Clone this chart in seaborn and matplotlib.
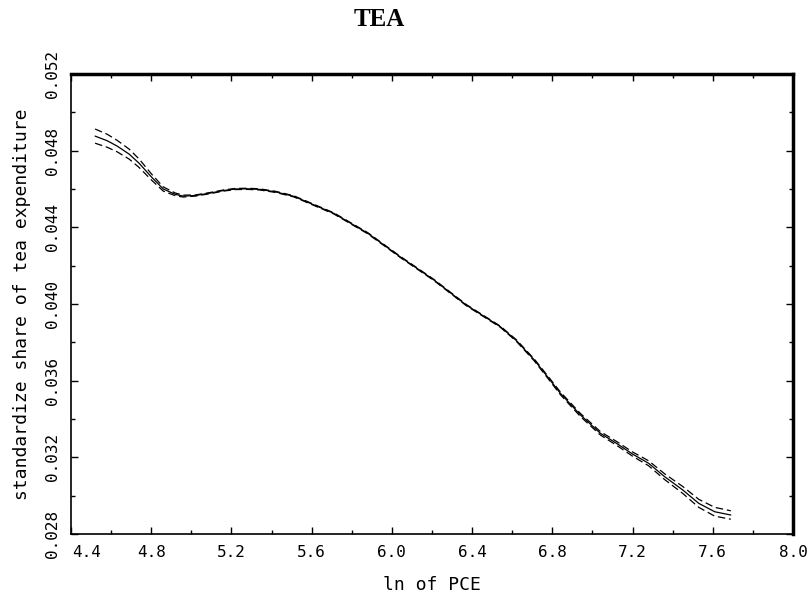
import pandas as pd
import matplotlib.pyplot as plt
import seaborn as sns
from matplotlib.ticker import MultipleLocator, FormatStrFormatter, FuncFormatter

# valores
ln_pce = [4.52, 4.58, 4.63, 4.69, 4.74, 4.80, 4.86, 4.92, 4.96, 5.02,
          5.09, 5.16, 5.22, 5.28, 5.34, 5.42, 5.51, 5.56, 5.71, 5.88,
          6.04, 6.21, 6.37, 6.54, 6.62, 6.71, 6.78, 6.84, 6.94, 7.04,
          7.12, 7.20, 7.28, 7.36, 7.45, 7.53, 7.61, 7.69]
share = [0.04876, 0.04852, 0.04824, 0.04782, 0.04734, 0.04664, 0.04600, 0.04572, 0.04563, 0.04566,
         0.04578, 0.04592, 0.04600, 0.04601, 0.04598, 0.04585, 0.04562, 0.04540, 0.04473, 0.04369,
         0.04247, 0.04125, 0.03995, 0.03882, 0.03810, 0.03708, 0.03615, 0.03534, 0.03421, 0.03325,
         0.03273, 0.03217, 0.03169, 0.03099, 0.03030, 0.02960, 0.02916, 0.02899]
upper = [0.04913, 0.04886, 0.04854, 0.04808, 0.04756, 0.04680, 0.04611, 0.04579, 0.04568, 0.04569,
         0.04581, 0.04595, 0.04603, 0.04604, 0.04601, 0.04588, 0.04565, 0.04543, 0.04476, 0.04372,
         0.04250, 0.04128, 0.03998, 0.03885, 0.03814, 0.03713, 0.03621, 0.03541, 0.03429, 0.03334,
         0.03283, 0.03228, 0.03182, 0.03114, 0.03048, 0.02981, 0.02939, 0.02921]
lower = [0.04839, 0.04818, 0.04794, 0.04756, 0.04712, 0.04648, 0.04589, 0.04565, 0.04558, 0.04563,
         0.04575, 0.04589, 0.04597, 0.04598, 0.04595, 0.04582, 0.04559, 0.04537, 0.04470, 0.04366,
         0.04244, 0.04122, 0.03992, 0.03879, 0.03806, 0.03703, 0.03609, 0.03527, 0.03413, 0.03316,
         0.03263, 0.03206, 0.03156, 0.03084, 0.03012, 0.02939, 0.02893, 0.02877]

data = pd.concat([
    pd.DataFrame({'x': ln_pce, 'y': share, 'curve': 'estimate'}),
    pd.DataFrame({'x': ln_pce, 'y': upper, 'curve': 'upper'}),
    pd.DataFrame({'x': ln_pce, 'y': lower, 'curve': 'lower'}),
])

sns.set_style('ticks')
plt.rcParams['font.family'] = ['DejaVu Sans Mono', 'DejaVu Sans']
plt.rcParams['text.color'] = 'black'
plt.rcParams['axes.labelcolor'] = 'black'
plt.rcParams['xtick.color'] = 'black'
plt.rcParams['ytick.color'] = 'black'

fig = plt.figure(figsize=(8.09, 6.01), dpi=100)
ax = fig.add_axes([71 / 809, 1 - 534 / 601, 722 / 809, 460 / 601])

sns.lineplot(data=data, x='x', y='y', style='curve', units='curve', estimator=None,
             dashes={'estimate': '', 'upper': (6, 3), 'lower': (6, 3)},
             color='black', linewidth=0.9, sort=False, legend=False, ax=ax)

ax.set_xlim(4.4, 8.0)
ax.set_ylim(0.028, 0.052)
ax.xaxis.set_major_locator(MultipleLocator(0.4))
ax.xaxis.set_minor_locator(MultipleLocator(0.2))
ax.yaxis.set_major_locator(MultipleLocator(0.004))
ax.yaxis.set_minor_locator(MultipleLocator(0.002))
# o 4.4 fica deslocado para a direita no original, desenhado a parte
ax.xaxis.set_major_formatter(FuncFormatter(lambda v, p: '' if abs(v - 4.4) < 1e-6 else f'{v:.1f}'))
ax.yaxis.set_major_formatter(FormatStrFormatter('%.3f'))
ax.tick_params(which='both', direction='in', top=True, right=True, color='black')
ax.tick_params(which='major', length=5, width=1, labelsize=11.5, pad=8)
ax.tick_params(which='minor', length=3, width=1)
plt.setp(ax.get_yticklabels(), rotation=90, va='center')
ax.annotate('4.4', xy=(4.4, 0), xycoords=ax.get_xaxis_transform(),
            xytext=(1, -8), textcoords='offset points', ha='left', va='top', fontsize=11.5)

for side in ['left', 'bottom']:
    ax.spines[side].set_linewidth(1.2)
for side in ['top', 'right']:
    ax.spines[side].set_linewidth(2.5)
for s in ax.spines.values():
    s.set_color('black')

ax.set_xlabel('ln of PCE', fontsize=13)
ax.set_ylabel('standardize share of tea expenditure', fontsize=13)
ax.xaxis.set_label_coords(0.5, (534 - 585) / 460)
ax.xaxis.label.set_va('center')
ax.yaxis.set_label_coords((22 - 71) / 722, 0.5)
ax.yaxis.label.set_va('center')

fig.text(379 / 809, 1 - 19 / 601, 'TEA', ha='center', va='center', color='black',
         fontsize=18, fontweight='bold', family='Liberation Serif')

fig.savefig('out.png', dpi=100)
